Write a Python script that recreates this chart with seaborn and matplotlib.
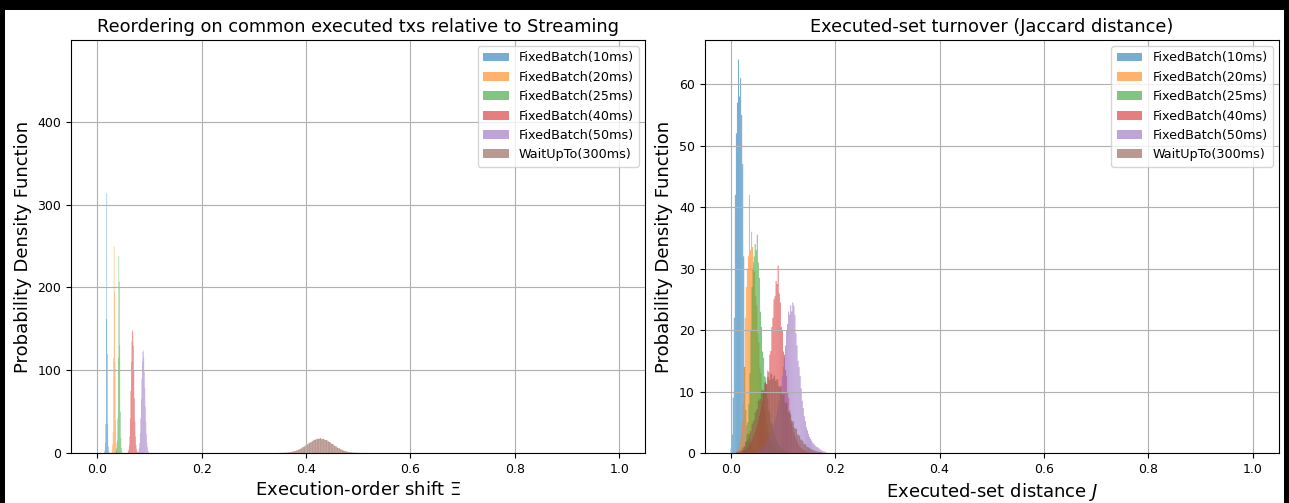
import numpy as np
import matplotlib.pyplot as plt
import seaborn as sns
from matplotlib.patches import Patch, Rectangle

# series names
labels = ["FixedBatch(10ms)", "FixedBatch(20ms)", "FixedBatch(25ms)",
          "FixedBatch(40ms)", "FixedBatch(50ms)", "WaitUpTo(300ms)"]

# --- left panel: execution-order shift, pdf heights per bin ---
# (first bin edge, bin width) for each series
shift_start = [0.014, 0.028, 0.036, 0.059, 0.078, 0.345]
shift_width = [0.001, 0.001, 0.001, 0.001, 0.001, 0.003]

shift_10 = [3, 12, 35, 162, 314, 120, 35, 8, 2]
shift_20 = [3, 10, 25, 114, 250, 195, 110, 40, 12, 3]
shift_25 = [2, 6, 15, 42, 115, 238, 207, 130, 50, 18, 6, 2]
shift_40 = [2, 4, 9, 20, 42, 75, 110, 135, 148, 146, 130, 100, 66, 38, 20, 10, 5, 2, 1]
shift_50 = [1, 3, 6, 12, 24, 42, 65, 90, 110, 122, 124, 115, 98, 78, 56, 38, 23, 13, 7, 3, 1]
shift_wait = [0.06, 0.1, 0.15, 0.2, 0.3, 0.45, 0.6, 0.8, 1.1, 1.5,
              2.0, 2.4, 3.2, 3.8, 4.9, 5.7, 7.2, 8.0, 9.8, 10.5,
              12.3, 13.1, 14.3, 15.9, 16.1, 17.2, 17.0, 17.9, 16.8, 17.1,
              15.8, 15.6, 14.0, 13.3, 11.4, 10.7, 8.8, 8.1, 6.4, 5.7,
              4.3, 3.8, 2.8, 2.4, 1.7, 1.4, 1.0, 0.75, 0.5, 0.4,
              0.27, 0.2, 0.13, 0.09, 0.06, 0.04, 0.03, 0.02, 0.01, 0.01]

# --- right panel: Jaccard distance ---
jac_start = [0.000, 0.011, 0.024, 0.020, 0.050, 0.010]
jac_width = [0.002, 0.002, 0.002, 0.002, 0.002, 0.003]

jac_10 = [0.8, 3, 9, 22, 42, 52, 57, 64, 58, 61, 55, 47, 32, 14, 7, 4.5,
          3.2, 2.4, 1.8, 1.4, 1, 0.7, 0.5, 0.3, 0.2]
jac_20 = [0.3, 0.6, 1, 1.8, 3, 5, 8, 14, 22, 27, 30, 32, 42, 33, 36, 33.5,
          31, 29.5, 25.5, 24, 19.5, 18, 14, 13, 10.5, 9.5, 7.2, 6.6, 5, 4.5,
          3.4, 3, 2.2, 2, 1.5, 1.2, 0.9, 0.7, 0.5, 0.4, 0.3, 0.2, 0.15, 0.1]
jac_25 = [0.5, 1, 1.8, 3, 5, 8, 13, 20, 27, 30,
          32, 34, 33, 35.5, 31, 28.5, 23, 20.5, 16.5, 15.5,
          12.5, 12.3, 9.6, 8.8, 7, 6.5, 5, 4.7, 3.6, 3.3,
          2.6, 2.3, 1.7, 1.6, 1.1, 1, 0.8, 0.6, 0.5, 0.4,
          0.3, 0.2, 0.15, 0.1]
jac_40 = [0.2, 0.3, 0.4, 0.5, 0.6, 0.8, 1, 1.2, 1.5, 1.8,
          2.2, 2.6, 3, 3.5, 4, 4.6, 5.3, 6, 6.8, 7.6,
          8.5, 9.8, 9.8, 11.6, 11.2, 13.4, 13.2, 16, 16.6, 20.5,
          22, 25, 25.5, 28, 27.5, 30.5, 26, 24.5, 20.5, 20,
          16.5, 16, 13.5, 12.5, 9.8, 9, 7, 6.2, 4.8, 4.2,
          3.4, 2.8, 2.3, 1.9, 1.5, 1.2, 1, 0.8, 0.6, 0.5,
          0.4, 0.3, 0.2, 0.15, 0.1]
jac_50 = [0.2, 0.3, 0.4, 0.5, 0.6, 0.8, 1, 1.2, 1.5, 1.8,
          2.1, 2.5, 2.9, 3.3, 3.8, 4.3, 4.8, 5.4, 6, 6.8,
          7.5, 8.5, 9.5, 11, 12.5, 14, 15.5, 17.5, 20, 21,
          23, 22.5, 24, 23, 24.5, 24, 22.5, 19.5, 17.5, 15,
          14, 12.5, 10.5, 8.5, 7.3, 6, 5.2, 4.2, 3.7, 3.1,
          2.6, 2.3, 2, 1.7, 1.5, 1.3, 1.1, 1, 0.9, 0.8,
          0.6, 0.5, 0.4, 0.3, 0.25, 0.2, 0.1]
jac_wait = [0.1, 0.2, 0.3, 0.5, 0.9, 1.1, 1.8, 2.2, 3.1, 3.6,
            4.8, 5.3, 6.6, 7.1, 8.5, 8.8, 10.1, 10.2, 11.4, 11.2,
            12.4, 11.9, 12.9, 12.1, 12.6, 11.8, 12.0, 10.9, 10.7, 9.6,
            9.5, 8.2, 8.1, 6.7, 6.5, 5.3, 5.1, 4.1, 3.9, 3.0,
            2.8, 2.2, 2.0, 1.5, 1.4, 1.0, 0.9, 0.7, 0.55, 0.45,
            0.35, 0.27, 0.2, 0.15, 0.1]

shift_series = [shift_10, shift_20, shift_25, shift_40, shift_50, shift_wait]
jac_series = [jac_10, jac_20, jac_25, jac_40, jac_50, jac_wait]

colors = sns.color_palette("tab10", 6)


def draw_hist(ax, starts, widths, series):
    for col, s, w, h in zip(colors, starts, widths, series):
        edges = s + w * np.arange(len(h) + 1)
        centers = edges[:-1] + w / 2
        sns.histplot(x=centers, weights=h, bins=edges.tolist(), stat="count", ax=ax,
                     color=col, alpha=0.6, linewidth=0, snap=False)


fig, (ax1, ax2) = plt.subplots(1, 2, figsize=(12.89, 5.03), dpi=100)
fig.subplots_adjust(left=0.0551, right=0.9922, bottom=0.0994, top=0.9205, wspace=0.103)

# screenshot frame
fig.patch.set_facecolor("black")
fig.add_artist(Rectangle((5 / 1289, 0), 1279 / 1289, 493 / 503,
                         transform=fig.transFigure, facecolor="white",
                         edgecolor="none", zorder=-10))

draw_hist(ax1, shift_start, shift_width, shift_series)
draw_hist(ax2, jac_start, jac_width, jac_series)

ax1.set_ylim(0, 499)
ax1.set_title("Reordering on common executed txs relative to Streaming", fontsize=12.8)
ax1.set_xlabel("Execution-order shift $\\Xi$", fontsize=13)
ax2.set_title("Executed-set turnover (Jaccard distance)", fontsize=12.8)
ax2.set_xlabel("Executed-set distance $J$", fontsize=13)

handles = [Patch(facecolor=c, alpha=0.6, label=l) for c, l in zip(colors, labels)]
for ax in (ax1, ax2):
    ax.set_xlim(-0.05, 1.05)
    ax.set_ylabel("Probability Density Function", fontsize=13)
    ax.tick_params(labelsize=9)
    ax.grid(True)
    ax.legend(handles=handles, loc="upper right", fontsize=9.2)

fig.savefig("out.png", dpi=100)
